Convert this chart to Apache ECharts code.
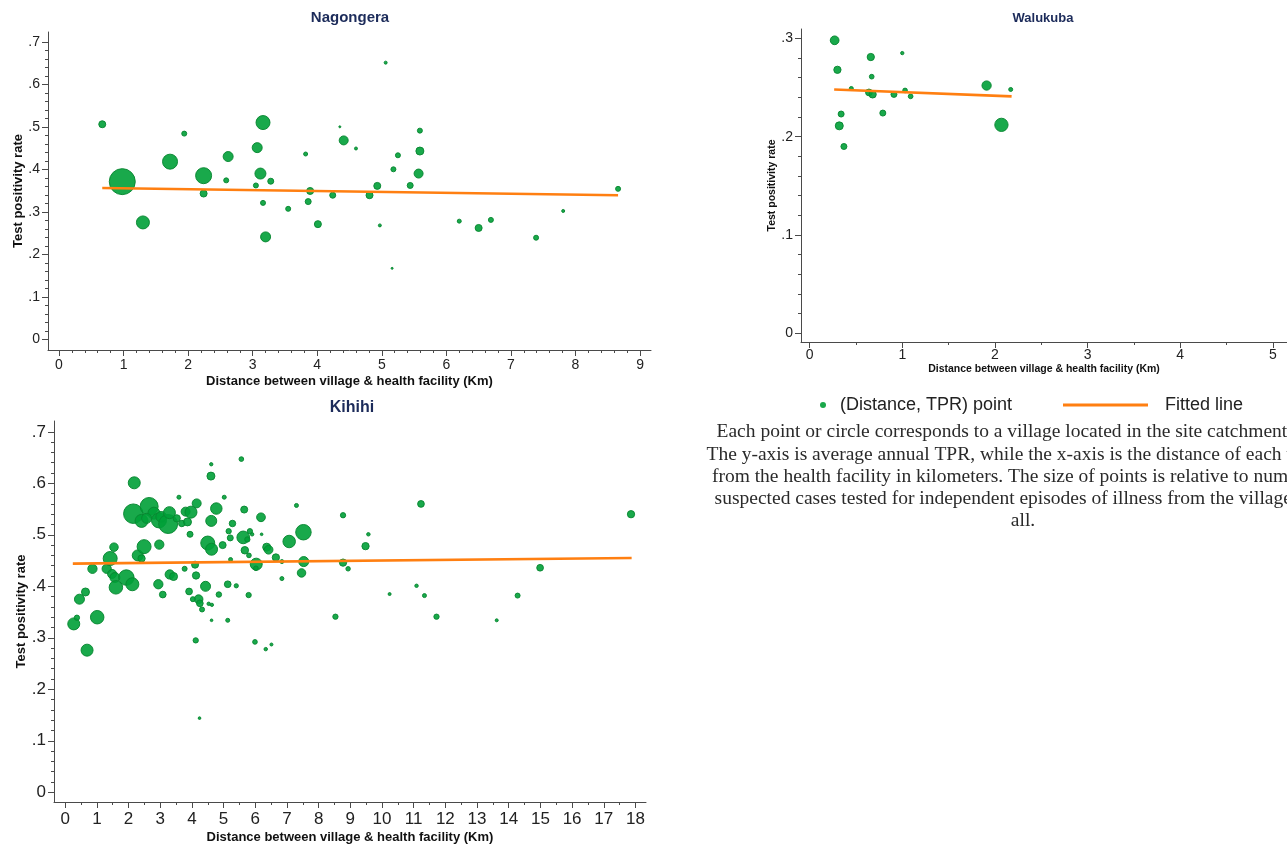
<!DOCTYPE html>
<html>
<head>
<meta charset="utf-8">
<title>Test positivity rate vs distance to health facility</title>
<script src="https://cdn.jsdelivr.net/npm/echarts@6/dist/echarts.min.js"></script>
<style>
  html, body { margin: 0; padding: 0; background: #fff; }
  #chart { width: 1287px; height: 848px; }
</style>
</head>
<body>
<div id="chart"></div>
<script>
// Villages per site: [distance km, average annual TPR, suspected cases tested]
const nagongera = [
  [0.67,0.506,49],[0.98,0.371,676],[1.94,0.484,25],[1.72,0.418,225],[2.24,0.385,256],
  [2.24,0.343,49],[2.59,0.374,25],[2.62,0.430,100],[3.07,0.451,100],[3.16,0.510,196],
  [3.12,0.390,121],[3.05,0.362,25],[3.28,0.372,36],[3.82,0.436,16],[3.89,0.349,49],
  [4.35,0.500,4],[4.41,0.468,81],[4.60,0.449,9],[5.06,0.651,9],[4.93,0.361,49],
  [5.18,0.400,25],[5.25,0.433,25],[5.44,0.362,36],[5.59,0.491,25],[5.59,0.443,64],
  [5.57,0.390,81],[8.66,0.354,25],[4.81,0.339,49],[4.24,0.339,36],[3.86,0.324,36],
  [1.30,0.275,169],[3.16,0.321,25],[3.20,0.241,100],[3.55,0.307,25],[4.01,0.271,49],
  [4.97,0.268,9],[5.16,0.167,4],[6.20,0.278,16],[6.50,0.262,49],[6.69,0.281,25],
  [7.39,0.239,25],[7.81,0.302,9]
];
const walukuba = [
  [0.27,0.298,76],[0.30,0.268,53],[0.45,0.249,16],[0.66,0.281,53],[1.00,0.285,11],
  [0.67,0.261,22],[0.64,0.245,45],[0.68,0.243,53],[0.91,0.243,36],[1.03,0.247,22],
  [1.09,0.241,22],[0.79,0.224,36],[0.34,0.223,36],[0.32,0.211,64],[0.37,0.190,36],
  [1.91,0.252,86],[2.07,0.212,177],[2.17,0.248,16]
];
const kihihi = [
  [0.27,0.327,144],[0.37,0.339,28],[0.45,0.375,100],[0.64,0.389,64],[0.69,0.276,144],
  [1.01,0.340,182],[0.86,0.434,86],[1.31,0.434,86],[1.42,0.454,196],[1.54,0.476,72],
  [1.48,0.424,81],[1.57,0.417,100],[1.60,0.398,182],[1.93,0.417,240],[2.12,0.404,169],
  [2.18,0.601,144],[2.29,0.460,121],[2.41,0.454,53],[2.49,0.477,196],
  [2.15,0.541,380],[2.65,0.555,324],[2.41,0.527,169],[2.80,0.542,144],[2.96,0.528,225],
  [3.03,0.535,114],[3.25,0.521,361],[3.29,0.543,144],[2.57,0.532,100],[3.52,0.532,53],
  [3.68,0.522,42],[3.86,0.525,64],[3.80,0.545,81],[3.97,0.544,144],[4.15,0.561,81],
  [3.94,0.501,36],[3.59,0.573,16],
  [2.97,0.481,86],[2.94,0.404,86],[3.08,0.384,45],[3.30,0.423,86],[3.42,0.419,64],
  [3.77,0.434,25],[3.91,0.390,45],[4.10,0.442,49],[4.13,0.421,53],[4.43,0.400,100],
  [4.21,0.375,76],[4.25,0.367,45],[4.03,0.375,25],[4.32,0.355,25],[4.53,0.366,12],
  [4.63,0.364,11],[4.62,0.334,7],[5.13,0.334,16],[4.12,0.295,28],[4.24,0.144,7],
  [5.99,0.292,22],[6.33,0.278,12],[6.51,0.287,9],
  [4.60,0.614,64],[4.61,0.637,11],[5.56,0.647,22],[5.02,0.573,16],[7.30,0.557,16],
  [4.77,0.551,132],[5.65,0.549,49],[6.18,0.534,76],[4.61,0.527,121],[5.28,0.522,42],
  [5.16,0.507,28],[5.21,0.494,36],[5.83,0.507,28],[5.90,0.501,12],[6.20,0.501,7],
  [5.62,0.495,161],[5.75,0.491,28],[4.50,0.484,196],[4.62,0.472,144],[4.97,0.480,49],
  [5.67,0.470,56],[5.80,0.460,22],[6.36,0.476,64],[6.42,0.471,76],[6.03,0.443,144],
  [6.02,0.435,22],[6.65,0.456,53],[6.84,0.448,16],[7.07,0.487,156],[7.52,0.505,240],
  [7.53,0.448,100],[7.46,0.426,72],[6.84,0.415,16],[5.22,0.452,16],[5.13,0.404,45],
  [5.40,0.401,18],[4.85,0.384,30],[5.79,0.383,28],
  [8.77,0.538,28],[9.57,0.501,12],[9.48,0.478,53],[8.77,0.446,53],[8.93,0.434,20],
  [11.23,0.560,45],[17.86,0.540,53],[14.99,0.436,45],[11.09,0.401,12],[10.24,0.385,9],
  [11.34,0.382,16],[14.28,0.382,25],[8.53,0.341,28],[11.72,0.341,28],[13.62,0.334,9]
];

// Fitted line end points [distance, TPR]
const nagongeraFit = [[0.67,0.356],[8.66,0.339]];
const walukubaFit  = [[0.265,0.248],[2.18,0.241]];
const kihihiFit    = [[0.24,0.444],[17.88,0.455]];

// Tick values and labels
const nagXTicks = [0,1,2,3,4,5,6,7,8,9];
const walXTicks = [0,1,2,3,4,5];
const kihXTicks = [0,1,2,3,4,5,6,7,8,9,10,11,12,13,14,15,16,17,18];
const tprTicks7 = [0,0.1,0.2,0.3,0.4,0.5,0.6,0.7];
const tprLabels7 = ['0','.1','.2','.3','.4','.5','.6','.7'];
const tprTicks3 = [0,0.1,0.2,0.3];
const tprLabels3 = ['0','.1','.2','.3'];

const PT_NAME = '(Distance, TPR) point';
const FIT_NAME = 'Fitted line';
const X_NAME = 'Distance between village & health facility (Km)';
const Y_NAME = 'Test positivity rate';

const captionLines = [
  'Each point or circle corresponds to a village located in the site catchment area.',
  'The y-axis is average annual TPR, while the x-axis is the distance of each village',
  'from the health facility in kilometers. The size of points is relative to number of',
  'suspected cases tested for independent episodes of illness from the village over',
  'all.'
];

const SANS = '"Liberation Sans", Arial, Helvetica, sans-serif';
const SERIF = '"Liberation Serif", "Times New Roman", serif';
const AXIS_COLOR = '#4a4a4a';
const GREEN = 'rgba(0,160,55,0.9)';
const GREEN_EDGE = 'rgba(8,135,50,0.95)';
const ORANGE = '#ff7f11';

function minorSteps(from, to, step, majors) {
  const out = [];
  const n = Math.round((to - from) / step);
  for (let i = 0; i <= n; i++) {
    const v = Math.round((from + i * step) * 10000) / 10000;
    if (!majors.some(m => Math.abs(m - v) < 1e-9)) out.push(v);
  }
  return out;
}

const panels = [
  {
    data: nagongera, fit: nagongeraFit,
    grid: { left: 48, top: 32, width: 603, height: 318 },
    x: { min: -0.1704, max: 9.170, ticks: nagXTicks, minorStep: 0.2, font: 14, margin: 8 },
    y: { min: -0.02518, max: 0.7231, ticks: tprTicks7, labels: tprLabels7, minorStep: 0.02, font: 14, margin: 8 },
    nameFont: 13, xNameGap: 25, yNameGap: 22
  },
  {
    data: walukuba, fit: walukubaFit,
    grid: { left: 801, top: 29, width: 490, height: 313 },
    x: { min: -0.0931, max: 5.152, ticks: walXTicks, minorStep: 0.5, font: 14, margin: 6 },
    y: { min: -0.00885, max: 0.3095, ticks: tprTicks3, labels: tprLabels3, minorStep: 0.02, font: 14, margin: 8 },
    nameFont: 10.5, xNameGap: 22, yNameGap: 23
  },
  {
    data: kihihi, fit: kihihiFit,
    grid: { left: 54, top: 421, width: 592, height: 381 },
    x: { min: -0.3535, max: 18.333, ticks: kihXTicks, minorStep: 0.5, font: 17, margin: 9 },
    y: { min: -0.01883, max: 0.7210, ticks: tprTicks7, labels: tprLabels7, minorStep: 0.02, font: 17, margin: 8 },
    nameFont: 13, xNameGap: 29, yNameGap: 25
  }
];

const grids = [], xAxes = [], yAxes = [], series = [];

panels.forEach((p, i) => {
  grids.push(Object.assign({ containLabel: false }, p.grid));
  const xMajors = p.x.ticks;
  const yMajors = p.y.ticks;
  const xMinors = minorSteps(xMajors[0], xMajors[xMajors.length - 1], p.x.minorStep, xMajors);
  const yMinors = minorSteps(yMajors[0], yMajors[yMajors.length - 1], p.y.minorStep, yMajors);

  xAxes.push({
    gridIndex: i, type: 'value', position: 'bottom', min: p.x.min, max: p.x.max,
    axisLine: { show: true, onZero: false, lineStyle: { color: AXIS_COLOR, width: 1 } },
    axisTick: { show: true, customValues: xMajors, length: 6, lineStyle: { color: AXIS_COLOR } },
    axisLabel: { show: true, customValues: xMajors, fontFamily: SANS, fontSize: p.x.font, color: '#222', margin: p.x.margin },
    splitLine: { show: false },
    name: X_NAME, nameLocation: 'middle', nameGap: p.xNameGap,
    nameTextStyle: { fontFamily: SANS, fontWeight: 'bold', fontSize: p.nameFont, color: '#111' }
  });
  xAxes.push({
    gridIndex: i, type: 'value', position: 'bottom', min: p.x.min, max: p.x.max,
    axisLine: { show: false, onZero: false },
    axisTick: { show: true, customValues: xMinors, length: 3, lineStyle: { color: AXIS_COLOR } },
    axisLabel: { show: false }, splitLine: { show: false }
  });
  yAxes.push({
    gridIndex: i, type: 'value', position: 'left', min: p.y.min, max: p.y.max,
    axisLine: { show: true, onZero: false, lineStyle: { color: AXIS_COLOR, width: 1 } },
    axisTick: { show: true, customValues: yMajors, length: 6, lineStyle: { color: AXIS_COLOR } },
    axisLabel: {
      show: true, customValues: yMajors, fontFamily: SANS, fontSize: p.y.font, color: '#222', margin: p.y.margin,
      formatter: v => p.y.labels[yMajors.findIndex(m => Math.abs(m - v) < 1e-9)]
    },
    splitLine: { show: false },
    name: Y_NAME, nameLocation: 'middle', nameGap: p.yNameGap,
    nameTextStyle: { fontFamily: SANS, fontWeight: 'bold', fontSize: p.nameFont, color: '#111' }
  });
  yAxes.push({
    gridIndex: i, type: 'value', position: 'left', min: p.y.min, max: p.y.max,
    axisLine: { show: false, onZero: false },
    axisTick: { show: true, customValues: yMinors, length: 3, lineStyle: { color: AXIS_COLOR } },
    axisLabel: { show: false }, splitLine: { show: false }
  });

  series.push({
    type: 'scatter', name: PT_NAME, xAxisIndex: 2 * i, yAxisIndex: 2 * i,
    data: p.data,
    symbolSize: d => Math.sqrt(d[2]),
    itemStyle: { color: GREEN, borderColor: GREEN_EDGE, borderWidth: 1, opacity: 1 },
    emphasis: { disabled: true },
    z: 2
  });
  series.push({
    type: 'line', name: FIT_NAME, xAxisIndex: 2 * i, yAxisIndex: 2 * i,
    data: p.fit, symbol: 'none', showSymbol: false,
    lineStyle: { color: ORANGE, width: 2.6 }, itemStyle: { color: ORANGE },
    emphasis: { disabled: true },
    z: 3
  });
});

const titleStyle = (text, x, y, size) => ({
  type: 'text', x: x, y: y,
  style: { text: text, fontFamily: SANS, fontWeight: 'bold', fontSize: size, fill: '#1c2b5a', align: 'center', verticalAlign: 'middle' }
});

const option = {
  backgroundColor: '#ffffff',
  animation: false,
  grid: grids,
  xAxis: xAxes,
  yAxis: yAxes,
  series: series,
  legend: [
    {
      data: [PT_NAME], left: 815, top: 391, icon: 'circle', itemWidth: 6, itemHeight: 6,
      itemStyle: { color: '#1aa84a', borderWidth: 0 },
      textStyle: { fontFamily: SANS, fontSize: 18, color: '#222', padding: [0, 0, 0, 9] },
      selectedMode: false
    },
    {
      data: [{ name: FIT_NAME, icon: 'rect' }], left: 1058, top: 391, itemWidth: 85, itemHeight: 3,
      itemStyle: { color: ORANGE },
      textStyle: { fontFamily: SANS, fontSize: 18, color: '#222', padding: [0, 0, 0, 12] },
      selectedMode: false
    }
  ],
  graphic: [
    titleStyle('Nagongera', 350, 18, 15),
    titleStyle('Walukuba', 1043, 18, 13),
    titleStyle('Kihihi', 352, 408, 16),
    {
      type: 'text', x: 1023, y: 421,
      style: {
        text: captionLines.join('\n'), fontFamily: SERIF, fontSize: 19.5, lineHeight: 22.3,
        fill: '#2a2a2a', align: 'center', verticalAlign: 'top'
      }
    }
  ]
};

const chart = echarts.init(document.getElementById('chart'), null, { renderer: 'canvas' });
chart.setOption(option);
</script>
</body>
</html>
